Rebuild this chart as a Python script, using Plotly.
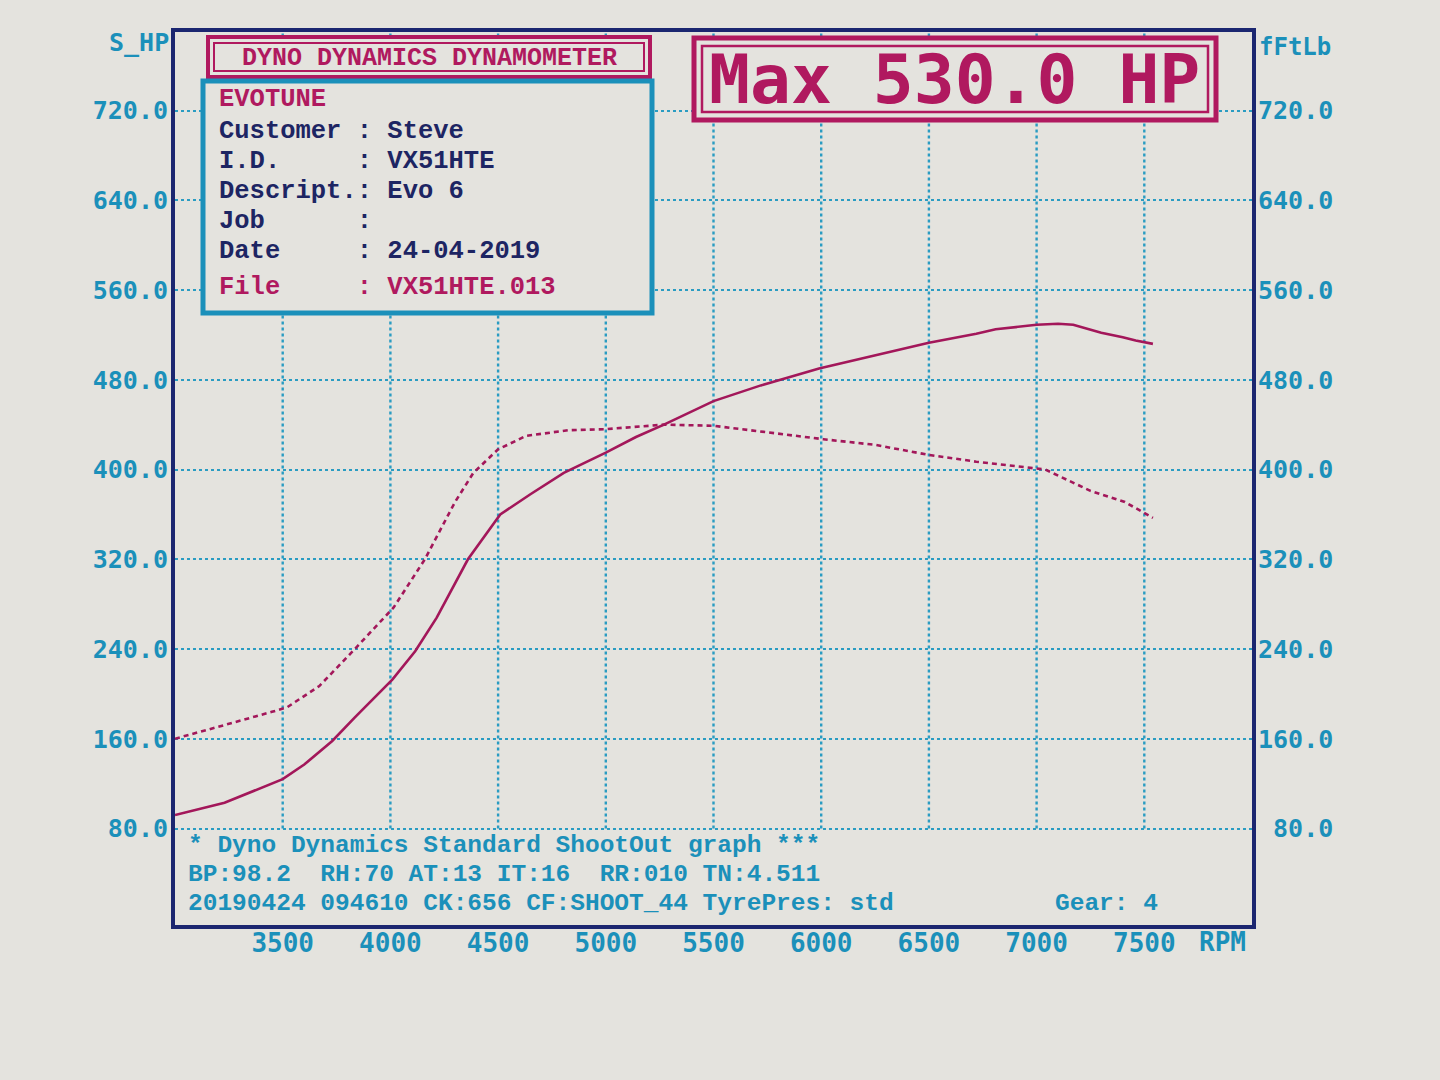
import plotly.graph_objects as go

# ---------------- data (read from the dyno sheet) ----------------
rpm_hp = [3000, 3230, 3500, 3600, 3730, 3835, 4010, 4115, 4215, 4360, 4510, 4650,
          4805, 5000, 5140, 5270, 5500, 5720, 5990, 6255, 6500, 6720, 6810, 7000,
          7100, 7170, 7250, 7300, 7400, 7460, 7540]
hp = [92, 103, 124, 137, 158, 179, 213, 238, 268, 320, 360, 378,
      397, 415, 429, 440, 461, 475, 490, 502, 513, 521, 525, 529,
      530, 529, 525, 522, 518, 515, 512]

rpm_tq = [3000, 3230, 3450, 3520, 3670, 3825, 4015, 4160, 4300, 4385, 4500, 4630,
          4825, 5000, 5270, 5500, 5660, 5800, 6010, 6250, 6500, 6720, 7040, 7130,
          7250, 7410, 7540]
torque = [160, 172, 184, 188, 207, 238, 277, 320, 371, 397, 418, 430,
          435, 436, 440, 439, 435, 432, 427, 422, 413, 407, 400, 392,
          381, 371, 357]

x_ticks = [3500, 4000, 4500, 5000, 5500, 6000, 6500, 7000, 7500]
y_ticks = [80, 160, 240, 320, 400, 480, 560, 640, 720]
x_range = [3000, 8000]
y_range = [-6, 790]

info_lines = [
    ("EVOTUNE", "magenta"),
    ("Customer : Steve", "navy"),
    ("I.D.     : VX51HTE", "navy"),
    ("Descript.: Evo 6", "navy"),
    ("Job      :", "navy"),
    ("Date     : 24-04-2019", "navy"),
    ("File     : VX51HTE.013", "magenta"),
]
footer_lines = [
    "* Dyno Dynamics Standard ShootOut graph ***",
    "BP:98.2  RH:70 AT:13 IT:16  RR:010 TN:4.511",
    "20190424 094610 CK:656 CF:SHOOT_44 TyrePres: std",
]
gear_text = "Gear: 4"
header_text = "DYNO DYNAMICS DYNAMOMETER"
max_text = "Max 530.0 HP"

# ---------------- style ----------------
PAPER = "#e4e3de"
MAGENTA = "#b0195f"
CURVE = "#a3175a"
NAVY = "#1d2563"
TEAL = "#1b90ba"
GRID = "#2a9cc2"
FRAME = "#1b2670"
MONO = "DejaVu Sans Mono"
SERIF_MONO = "Liberation Mono"

W, H = 1440, 1080
L, R, T, B = 175, 1252, 32, 925


def px(x):
    return (x - L) / (R - L)


def py(y):
    return (B - y) / (B - T)


def nb(s):
    return s.replace(" ", "\u00a0")


fig = go.Figure()
fig.add_trace(go.Scatter(x=rpm_hp, y=hp, mode="lines", name="HP",
                         line=dict(color=CURVE, width=2.6), hoverinfo="skip"))
fig.add_trace(go.Scatter(x=rpm_tq, y=torque, mode="lines", name="Torque", yaxis="y2",
                         line=dict(color=CURVE, width=2.6, dash="5px,4px"),
                         hoverinfo="skip"))

shapes = []
# vertical dotted grid lines (stop at the 80 line, above the footer text)
for v in x_ticks:
    shapes.append(dict(type="line", xref="x", yref="y", x0=v, x1=v,
                       y0=y_ticks[0], y1=y_range[1], layer="below",
                       line=dict(color=GRID, width=2.4, dash="3px,3px")))

# header box (double magenta border)
shapes.append(dict(type="rect", xref="paper", yref="paper", layer="above",
                   x0=px(208), x1=px(650), y0=py(77), y1=py(37),
                   fillcolor=PAPER, line=dict(color=MAGENTA, width=4)))
shapes.append(dict(type="rect", xref="paper", yref="paper", layer="above",
                   x0=px(214), x1=px(644), y0=py(71), y1=py(43),
                   line=dict(color=MAGENTA, width=2)))
# info box (teal)
shapes.append(dict(type="rect", xref="paper", yref="paper", layer="above",
                   x0=px(203), x1=px(652), y0=py(313), y1=py(81),
                   fillcolor=PAPER, line=dict(color=TEAL, width=5)))
# Max box (double magenta border)
shapes.append(dict(type="rect", xref="paper", yref="paper", layer="above",
                   x0=px(694), x1=px(1216), y0=py(120), y1=py(38),
                   fillcolor=PAPER, line=dict(color=MAGENTA, width=5)))
shapes.append(dict(type="rect", xref="paper", yref="paper", layer="above",
                   x0=px(702), x1=px(1208), y0=py(112), y1=py(46),
                   line=dict(color=MAGENTA, width=2.5)))

ann = []
ann.append(dict(text=nb(header_text), x=px(429), y=py(58), xref="paper", yref="paper",
                showarrow=False, xanchor="center", yanchor="middle",
                font=dict(family=SERIF_MONO, size=25, color=MAGENTA, weight="bold")))
info_y = [99, 132, 162, 191, 221, 251, 288]
for (txt, col), yy in zip(info_lines, info_y):
    ann.append(dict(text=nb(txt), x=px(217), y=py(yy), xref="paper", yref="paper",
                    showarrow=False, xanchor="left", yanchor="middle",
                    font=dict(family=SERIF_MONO, size=25.5, weight="bold",
                              color=MAGENTA if col == "magenta" else NAVY)))
ann.append(dict(text=nb(max_text), x=px(954), y=py(79), xref="paper", yref="paper",
                showarrow=False, xanchor="center", yanchor="middle",
                font=dict(family=MONO, size=68, color=MAGENTA, weight="bold")))
foot_y = [845, 874, 903]
for txt, yy in zip(footer_lines, foot_y):
    ann.append(dict(text=nb(txt), x=px(186), y=py(yy), xref="paper", yref="paper",
                    showarrow=False, xanchor="left", yanchor="middle",
                    font=dict(family=SERIF_MONO, size=24.5, color=TEAL, weight="bold")))
ann.append(dict(text=nb(gear_text), x=px(1160), y=py(foot_y[2]), xref="paper", yref="paper",
                showarrow=False, xanchor="right", yanchor="middle",
                font=dict(family=SERIF_MONO, size=24.5, color=TEAL, weight="bold")))
ann.append(dict(text="S_HP", x=0, xshift=-4, y=py(42), xref="paper", yref="paper",
                showarrow=False, xanchor="right", yanchor="middle",
                font=dict(family=MONO, size=25, color=TEAL, weight="bold")))
ann.append(dict(text="fFtLb", x=1, xshift=5, y=py(47), xref="paper", yref="paper",
                showarrow=False, xanchor="left", yanchor="middle",
                font=dict(family=MONO, size=24, color=TEAL, weight="bold")))
ann.append(dict(text="RPM", x=px(1222), y=py(942), xref="paper", yref="paper",
                showarrow=False, xanchor="center", yanchor="middle",
                font=dict(family=MONO, size=26, color=TEAL, weight="bold")))

left_text = ["%.1f" % v for v in y_ticks]
right_text = [("%5.1f" % v).replace(" ", "\u00a0") for v in y_ticks]

fig.update_layout(
    width=W, height=H,
    margin=dict(l=L, r=W - R, t=T, b=H - B, pad=0),
    paper_bgcolor=PAPER, plot_bgcolor=PAPER,
    showlegend=False,
    shapes=shapes, annotations=ann,
    xaxis=dict(range=x_range, tickvals=x_ticks, ticktext=[str(v) for v in x_ticks],
               showgrid=False, zeroline=False, showline=True, mirror=True,
               linecolor=FRAME, linewidth=4, ticks="", ticklabelstandoff=-8,
               tickfont=dict(family=MONO, size=26, color=TEAL, weight="bold")),
    yaxis=dict(range=y_range, tickvals=y_ticks, ticktext=left_text,
               showgrid=True, gridcolor=GRID, gridwidth=2.4, griddash="3px,3px",
               zeroline=False, showline=True, mirror=True,
               linecolor=FRAME, linewidth=4, ticks="", ticklabelstandoff=-2,
               tickfont=dict(family=MONO, size=25, color=TEAL, weight="bold")),
    yaxis2=dict(range=y_range, tickvals=y_ticks, ticktext=right_text,
                overlaying="y", side="right", showgrid=False, zeroline=False,
                showline=False, ticks="", ticklabelstandoff=5,
                tickfont=dict(family=MONO, size=25, color=TEAL, weight="bold")),
)

fig.write_html("out.html", config={"displayModeBar": False},
               post_script="document.body.style.margin='0';"
                           "document.body.style.background='#e4e3de';")
